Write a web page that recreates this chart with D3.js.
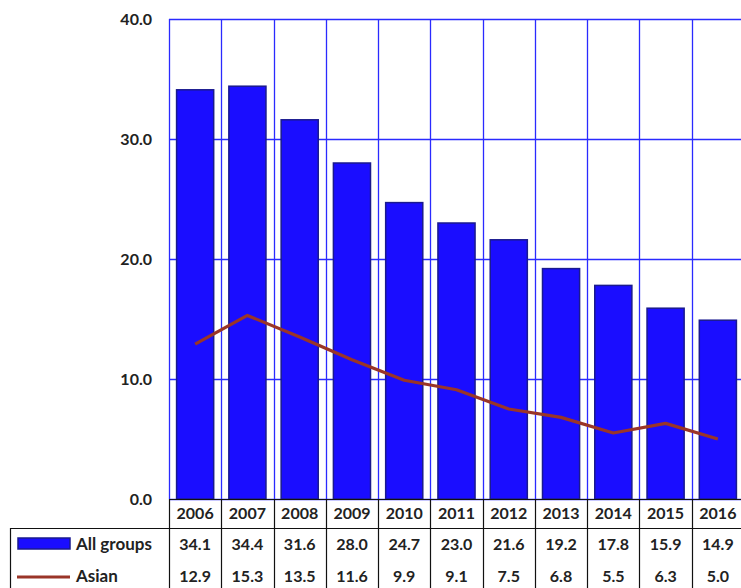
<!DOCTYPE html>
<html>
<head>
<meta charset="utf-8">
<script src="https://cdn.jsdelivr.net/npm/d3@7/dist/d3.min.js"></script>
<style>
html,body{margin:0;padding:0;background:#fff;}
svg{display:block;}
text{font-family:Lato,"Liberation Sans",sans-serif;font-weight:bold;fill:#222;}
</style>
</head>
<body>
<script>
const years = ["2006","2007","2008","2009","2010","2011","2012","2013","2014","2015","2016"];
const allGroups = [34.1,34.4,31.6,28.0,24.7,23.0,21.6,19.2,17.8,15.9,14.9];
const asian = [12.9,15.3,13.5,11.6,9.9,9.1,7.5,6.8,5.5,6.3,5.0];
const yTicks = [0,10,20,30,40];
const seriesNames = ["All groups","Asian"];

(function(){
const W = 741, H = 588;
const svg = d3.select("body").append("svg").attr("width",W).attr("height",H);

const pLeft = 169, pRight = 744, pTop = 19, pBottom = 499;
const numSize = "16px", nameSize = "17px";
const x = d3.scaleBand().domain(years).range([pLeft,pRight]).paddingInner(0).paddingOuter(0);
const y = d3.scaleLinear().domain([0,40]).range([pBottom,pTop]);
const bw = x.bandwidth();
const barW = bw*0.71;

// gridlines horizontal
svg.append("g").selectAll("line").data(yTicks).join("line")
  .attr("x1",pLeft).attr("x2",pRight)
  .attr("y1",d=>y(d)+0.5).attr("y2",d=>y(d)+0.5)
  .attr("stroke","#2a2aff").attr("stroke-width",1.3);
// vertical gridlines
const vb = years.map((d,i)=>x(d)).concat([pRight]);
svg.append("g").selectAll("line").data(vb).join("line")
  .attr("x1",d=>Math.round(d)+0.5).attr("x2",d=>Math.round(d)+0.5)
  .attr("y1",pTop).attr("y2",pBottom)
  .attr("stroke","#2a2aff").attr("stroke-width",1.3);

// y axis labels
const yAxis = d3.axisLeft(y).tickValues(yTicks).tickFormat(d3.format(".1f")).tickSize(0).tickPadding(17);
const ga = svg.append("g").attr("transform",`translate(${pLeft},0)`).call(yAxis);
ga.select(".domain").remove();
ga.selectAll("text").style("font-size",numSize).style("font-family","Lato,'Liberation Sans',sans-serif").style("font-weight","bold").attr("fill","#222");

// bars
svg.append("g").selectAll("rect").data(allGroups).join("rect")
  .attr("x",(d,i)=>x(years[i])+(bw-barW)/2)
  .attr("y",d=>y(d))
  .attr("width",barW)
  .attr("height",d=>y(0)-y(d))
  .attr("fill","#1a0dff")
  .attr("stroke","#1a1a8f").attr("stroke-width",1.5);

// line
const line = d3.line().x((d,i)=>x(years[i])+bw/2).y(d=>y(d));
svg.append("path").datum(asian).attr("d",line)
  .attr("fill","none").attr("stroke","#9a3528").attr("stroke-width",3.2).attr("stroke-linejoin","round");

// data table
const tbl = svg.append("g");
const tLeft = 10, r0 = 499, r1 = 528;
const tstroke = "#111";
tbl.append("line").attr("x1",pLeft).attr("x2",pRight).attr("y1",r0+0.5).attr("y2",r0+0.5).attr("stroke",tstroke).attr("stroke-width",1.2);
tbl.append("line").attr("x1",tLeft).attr("x2",pRight).attr("y1",r1+0.5).attr("y2",r1+0.5).attr("stroke",tstroke).attr("stroke-width",1.2);
tbl.append("g").selectAll("line").data(vb).join("line")
  .attr("x1",d=>Math.round(d)+0.5).attr("x2",d=>Math.round(d)+0.5)
  .attr("y1",r0).attr("y2",H)
  .attr("stroke",tstroke).attr("stroke-width",1.2);
tbl.append("line").attr("x1",tLeft+0.5).attr("x2",tLeft+0.5).attr("y1",r1).attr("y2",H).attr("stroke",tstroke).attr("stroke-width",1.2);

tbl.append("g").selectAll("text").data(years).join("text")
  .attr("x",d=>x(d)+bw/2).attr("y",519)
  .attr("text-anchor","middle").style("font-size",numSize).text(d=>d);
tbl.append("g").selectAll("text").data(allGroups).join("text")
  .attr("x",(d,i)=>x(years[i])+bw/2).attr("y",550)
  .attr("text-anchor","middle").style("font-size",numSize).text(d=>d.toFixed(1));
tbl.append("g").selectAll("text").data(asian).join("text")
  .attr("x",(d,i)=>x(years[i])+bw/2).attr("y",582)
  .attr("text-anchor","middle").style("font-size",numSize).text(d=>d.toFixed(1));

tbl.append("rect").attr("x",18).attr("y",538).attr("width",52).attr("height",11)
  .attr("fill","#1a0dff").attr("stroke","#1a1a8f").attr("stroke-width",1.5);
tbl.append("text").attr("x",76).attr("y",550).style("font-size",nameSize).text(seriesNames[0]);
tbl.append("line").attr("x1",17).attr("x2",70).attr("y1",577).attr("y2",577)
  .attr("stroke","#9a3528").attr("stroke-width",3.2);
tbl.append("text").attr("x",76).attr("y",582).style("font-size",nameSize).text(seriesNames[1]);
})();
</script>
</body>
</html>
